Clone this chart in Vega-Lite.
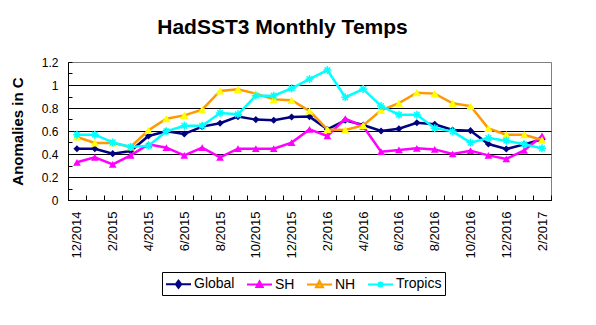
{
  "$schema": "https://vega.github.io/schema/vega-lite/v6.json",
  "width": 483,
  "height": 138,
  "autosize": {"type": "none"},
  "padding": {"left": 68, "top": 62, "right": 45, "bottom": 125},
  "background": "white",
  "config": {
    "view": {"stroke": "#808080", "strokeWidth": 1},
    "font": "Liberation Sans"
  },
  "title": {
    "text": "HadSST3 Monthly Temps",
    "font": "Liberation Sans",
    "fontSize": 21,
    "fontWeight": "bold",
    "color": "black",
    "anchor": "middle",
    "dx": -27,
    "offset": 18
  },
  "data": {
    "values": [
      {"month": "12/2014", "Global": 0.446, "SH": 0.328, "NH": 0.548, "Tropics": 0.568},
      {"month": "1/2015", "Global": 0.446, "SH": 0.371, "NH": 0.496, "Tropics": 0.568},
      {"month": "2/2015", "Global": 0.403, "SH": 0.310, "NH": 0.496, "Tropics": 0.501},
      {"month": "3/2015", "Global": 0.426, "SH": 0.388, "NH": 0.461, "Tropics": 0.461},
      {"month": "4/2015", "Global": 0.557, "SH": 0.484, "NH": 0.606, "Tropics": 0.472},
      {"month": "5/2015", "Global": 0.597, "SH": 0.455, "NH": 0.707, "Tropics": 0.597},
      {"month": "6/2015", "Global": 0.574, "SH": 0.388, "NH": 0.736, "Tropics": 0.646},
      {"month": "7/2015", "Global": 0.638, "SH": 0.455, "NH": 0.786, "Tropics": 0.646},
      {"month": "8/2015", "Global": 0.667, "SH": 0.371, "NH": 0.948, "Tropics": 0.757},
      {"month": "9/2015", "Global": 0.725, "SH": 0.446, "NH": 0.962, "Tropics": 0.745},
      {"month": "10/2015", "Global": 0.699, "SH": 0.446, "NH": 0.925, "Tropics": 0.907},
      {"month": "11/2015", "Global": 0.693, "SH": 0.446, "NH": 0.875, "Tropics": 0.907},
      {"month": "12/2015", "Global": 0.722, "SH": 0.499, "NH": 0.867, "Tropics": 0.971},
      {"month": "1/2016", "Global": 0.725, "SH": 0.614, "NH": 0.774, "Tropics": 1.052},
      {"month": "2/2016", "Global": 0.614, "SH": 0.557, "NH": 0.614, "Tropics": 1.130},
      {"month": "3/2016", "Global": 0.693, "SH": 0.707, "NH": 0.609, "Tropics": 0.893},
      {"month": "4/2016", "Global": 0.652, "SH": 0.641, "NH": 0.649, "Tropics": 0.965},
      {"month": "5/2016", "Global": 0.600, "SH": 0.420, "NH": 0.780, "Tropics": 0.817},
      {"month": "6/2016", "Global": 0.620, "SH": 0.435, "NH": 0.843, "Tropics": 0.742},
      {"month": "7/2016", "Global": 0.672, "SH": 0.449, "NH": 0.933, "Tropics": 0.742},
      {"month": "8/2016", "Global": 0.658, "SH": 0.440, "NH": 0.925, "Tropics": 0.625},
      {"month": "9/2016", "Global": 0.609, "SH": 0.400, "NH": 0.841, "Tropics": 0.597},
      {"month": "10/2016", "Global": 0.603, "SH": 0.429, "NH": 0.817, "Tropics": 0.499},
      {"month": "11/2016", "Global": 0.487, "SH": 0.388, "NH": 0.623, "Tropics": 0.539},
      {"month": "12/2016", "Global": 0.443, "SH": 0.357, "NH": 0.568, "Tropics": 0.516},
      {"month": "1/2017", "Global": 0.484, "SH": 0.432, "NH": 0.568, "Tropics": 0.484},
      {"month": "2/2017", "Global": 0.528, "SH": 0.557, "NH": 0.522, "Tropics": 0.449}
    ]
  },
  "encoding": {
    "x": {
      "field": "month",
      "type": "ordinal",
      "bandPosition": 0.5,
      "scale": {
        "type": "band",
        "paddingInner": 0,
        "paddingOuter": 0,
        "domain": ["12/2014","1/2015","2/2015","3/2015","4/2015","5/2015","6/2015","7/2015","8/2015","9/2015","10/2015","11/2015","12/2015","1/2016","2/2016","3/2016","4/2016","5/2016","6/2016","7/2016","8/2016","9/2016","10/2016","11/2016","12/2016","1/2017","2/2017"]
      },
      "axis": {
        "title": null,
        "grid": false,
        "tickBand": "extent",
        "tickSize": -5,
        "tickColor": "black",
        "domainColor": "black",
        "labelAngle": -90,
        "labelOverlap": false,
        "labelExpr": "parseInt(split(datum.value, '/')[0]) % 2 == 0 ? datum.label : ''",
        "labelFont": "Liberation Sans",
        "labelFontSize": 13,
        "labelColor": "black",
        "labelPadding": 16
      }
    }
  },
  "layer": [
    {
      "mark": {"type": "line", "color": "#000080", "strokeWidth": 2.5,
        "point": {"shape": "diamond", "filled": true, "size": 50, "color": "#000080", "opacity": 1}},
      "encoding": {
        "y": {
          "field": "Global",
          "type": "quantitative",
          "title": "Anomalies in C",
          "scale": {"domain": [0, 1.2], "nice": false, "zero": true},
          "axis": {
            "values": [0, 0.1, 0.2, 0.3, 0.4, 0.5, 0.6, 0.7, 0.8, 0.9, 1, 1.1, 1.2],
            "tickCount": 13,
            "format": ".1~f",
            "labelOverlap": false,
            "labelExpr": "round(datum.value*10) % 2 == 0 ? datum.label : ''",
            "tickSize": -4,
            "tickColor": "black",
            "grid": true,
            "gridColor": {"condition": {"test": "datum.value > 1.15", "value": "#808080"}, "value": "black"},
            "gridOpacity": {"condition": {"test": "round(datum.value*10) % 2 == 1", "value": 0}, "value": 1},
            "domainColor": "black",
            "labelFont": "Liberation Sans",
            "labelFontSize": 12,
            "labelColor": "black",
            "labelPadding": 14,
            "title": "Anomalies in C",
            "titleFont": "Liberation Sans",
            "titleFontSize": 15,
            "titleFontWeight": "bold",
            "titleColor": "black",
            "titlePadding": 16
          }
        }
      }
    },
    {
      "mark": {"type": "line", "color": "#FF00FF", "strokeWidth": 2.5,
        "point": {"shape": "triangle-up", "filled": true, "size": 60, "color": "#FF00FF", "opacity": 1}},
      "encoding": {"y": {"field": "SH", "type": "quantitative", "title": "Anomalies in C"}}
    },
    {
      "mark": {"type": "line", "color": "#FF9900", "strokeWidth": 2.5,
        "point": {"shape": "triangle-up", "filled": true, "size": 70, "fill": "#FFFF00", "opacity": 1}},
      "encoding": {"y": {"field": "NH", "type": "quantitative", "title": "Anomalies in C"}}
    },
    {
      "mark": {"type": "line", "color": "#00FFFF", "strokeWidth": 2.5,
        "point": {"shape": "M-1,0H1M0,-1V1M-0.7,-0.7L0.7,0.7M-0.7,0.7L0.7,-0.7", "filled": false, "size": 64, "stroke": "#00FFFF", "strokeWidth": 1.5, "opacity": 1}},
      "encoding": {"y": {"field": "Tropics", "type": "quantitative", "title": "Anomalies in C"}}
    },
    {
      "transform": [
        {"fold": ["Global", "SH", "NH", "Tropics"], "as": ["series", "val"]},
        {"filter": "false"}
      ],
      "mark": {"type": "point", "filled": true, "opacity": 1, "strokeWidth": 2},
      "encoding": {
        "y": {"field": "val", "type": "quantitative", "title": "Anomalies in C"},
        "shape": {
          "field": "series", "type": "nominal",
          "scale": {
            "domain": ["Global", "SH", "NH", "Tropics"],
            "range": [
              "M-1,0H2.125M0.5625,-0.45L0.9,0L0.5625,0.45L0.225,0Z",
              "M-1,0H2.125M0.5625,-0.4L0.95,0.3L0.175,0.3Z",
              "M-1,0H2.125M0.5625,-0.45L1,0.33L0.125,0.33Z",
              "M-1,0H2.125M0.28,-0.28L0.84,0.28M0.28,0.28L0.84,-0.28M0.5625,-0.38V0.38"
            ]
          },
          "legend": {
            "title": null, "orient": "none", "legendX": 94, "legendY": 210,
            "direction": "horizontal", "columns": 4, "strokeColor": "black", "fillColor": "white",
            "padding": 3, "symbolSize": 256, "symbolStrokeWidth": 2,
            "labelFont": "Liberation Sans", "labelFontSize": 14, "labelColor": "black",
            "labelOffset": 11, "columnPadding": 8
          }
        },
        "fill": {
          "field": "series", "type": "nominal",
          "scale": {"domain": ["Global", "SH", "NH", "Tropics"], "range": ["#000080", "#FF00FF", "#FFFF00", "#00FFFF"]},
          "legend": {
            "title": null, "orient": "none", "legendX": 94, "legendY": 210,
            "direction": "horizontal", "columns": 4, "strokeColor": "black", "fillColor": "white",
            "padding": 3, "symbolSize": 256, "symbolStrokeWidth": 2,
            "labelFont": "Liberation Sans", "labelFontSize": 14, "labelColor": "black",
            "labelOffset": 11, "columnPadding": 8
          }
        },
        "stroke": {
          "field": "series", "type": "nominal",
          "scale": {"domain": ["Global", "SH", "NH", "Tropics"], "range": ["#000080", "#FF00FF", "#FF9900", "#00FFFF"]},
          "legend": {
            "title": null, "orient": "none", "legendX": 94, "legendY": 210,
            "direction": "horizontal", "columns": 4, "strokeColor": "black", "fillColor": "white",
            "padding": 3, "symbolSize": 256, "symbolStrokeWidth": 2,
            "labelFont": "Liberation Sans", "labelFontSize": 14, "labelColor": "black",
            "labelOffset": 11, "columnPadding": 8
          }
        }
      }
    }
  ]
}
